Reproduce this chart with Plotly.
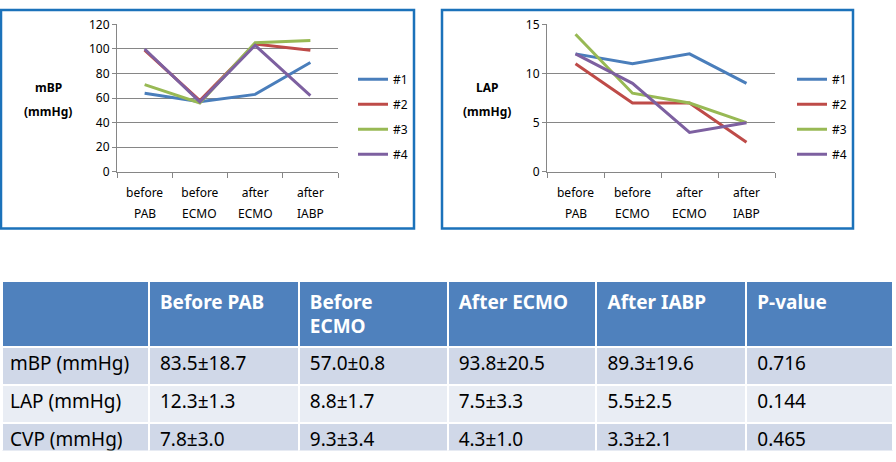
import plotly.graph_objects as go

W, H = 896, 462

# ---------------- data ----------------
categories = ["before PAB", "before ECMO", "after ECMO", "after IABP"]
cat_line1 = ["before", "before", "after", "after"]
cat_line2 = ["PAB", "ECMO", "ECMO", "IABP"]
series_names = ["#1", "#2", "#3", "#4"]
series_colors = ["#4A7EBB", "#BE4B48", "#98B954", "#7D60A0"]

mbp_1 = [64, 57, 63, 89]
mbp_2 = [99, 58, 104, 99]
mbp_3 = [71, 56, 105, 107]
mbp_4 = [100, 57, 103, 62]

lap_1 = [12, 11, 12, 9]
lap_2 = [11, 7, 7, 3]
lap_3 = [14, 8, 7, 5]
lap_4 = [12, 9, 4, 5]

mbp_ticks = [0, 20, 40, 60, 80, 100, 120]
lap_ticks = [0, 5, 10, 15]

table_header = ["", "Before PAB", "Before<br>ECMO", "After ECMO", "After IABP", "P-value"]
row_labels = ["mBP (mmHg)", "LAP (mmHg)", "CVP (mmHg)"]
col_before_pab = ["83.5±18.7", "12.3±1.3", "7.8±3.0"]
col_before_ecmo = ["57.0±0.8", "8.8±1.7", "9.3±3.4"]
col_after_ecmo = ["93.8±20.5", "7.5±3.3", "4.3±1.0"]
col_after_iabp = ["89.3±19.6", "5.5±2.5", "3.3±2.1"]
col_pvalue = ["0.716", "0.144", "0.465"]

# ---------------- helpers ----------------
def px(x):
    return x / W

def py(y):
    return 1 - y / H

FONT = "Noto Sans"
GRID = "#868686"
BOX = "#1B72BA"

fig = go.Figure()
xpos = list(range(len(categories)))

mbp_series = [mbp_1, mbp_2, mbp_3, mbp_4]
lap_series = [lap_1, lap_2, lap_3, lap_4]

for i, (name, vals) in enumerate(zip(series_names, mbp_series)):
    fig.add_trace(go.Scatter(x=xpos, y=vals, mode="lines", name=name,
                             line=dict(color=series_colors[i], width=3),
                             xaxis="x", yaxis="y", legend="legend",
                             legendgroup="a%d" % i))
for i, (name, vals) in enumerate(zip(series_names, lap_series)):
    fig.add_trace(go.Scatter(x=xpos, y=vals, mode="lines", name=name,
                             line=dict(color=series_colors[i], width=3),
                             xaxis="x2", yaxis="y2", legend="legend2",
                             legendgroup="b%d" % i))

# table
pad = "\u2009"
nb = lambda s: s.replace(" ", "\u00a0")
header_vals = [("<b>%s%s</b>" % (pad, h.replace("<br>", "<br>" + pad))) if h else ""
               for h in table_header]
cell_vals = [[nb(v) for v in row_labels]] + \
            [[pad + v for v in col] for col in
             [col_before_pab, col_before_ecmo, col_after_ecmo, col_after_iabp, col_pvalue]]

fig.add_trace(go.Table(
    domain=dict(x=[px(2), px(894)], y=[py(459), py(282)]),
    columnwidth=[147, 150, 149, 149, 150, 147],
    header=dict(values=header_vals,
                fill_color="#4F81BD",
                line=dict(color="white", width=2),
                align="left", height=58,
                font=dict(family=FONT, size=19, color="white")),
    cells=dict(values=cell_vals,
               fill_color=[["#D0D8E8", "#E9EDF4", "#D0D8E8"]] * 6,
               line=dict(color="white", width=2),
               align="left", height=38,
               font=dict(family=FONT, size=19, color="black")),
))

def xaxis_cfg(x0, x1):
    return dict(domain=[px(x0), px(x1)], range=[-0.5, 3.5],
                tickmode="array", tickvals=xpos, ticktext=cat_line1,
                ticks="", showgrid=False, zeroline=False,
                showline=True, linecolor=GRID, linewidth=1,
                ticklabelstandoff=10,
                tickfont=dict(family=FONT, size=12, color="black"),
                minor=dict(tickmode="array", tickvals=[-0.5, 0.5, 1.5, 2.5, 3.5],
                           ticks="outside", ticklen=5, tickcolor=GRID, showgrid=False),
                fixedrange=True)

def yaxis_cfg(ticks, top):
    return dict(domain=[py(169), py(16)], range=[0, top],
                tickmode="array", tickvals=ticks,
                ticks="outside", ticklen=4, tickcolor=GRID,
                showgrid=True, gridcolor=GRID, gridwidth=1,
                zeroline=False, showline=True, linecolor=GRID, linewidth=1,
                tickfont=dict(family=FONT, size=12, color="black"),
                fixedrange=True)

annotations = []
# second line of category labels
for xa in ("x", "x2"):
    for xv, t in zip(xpos, cat_line2):
        annotations.append(dict(x=xv, y=py(212), xref=xa, yref="paper", text=t,
                                showarrow=False, xanchor="center", yanchor="middle",
                                font=dict(family=FONT, size=12, color="black")))
# axis titles
for cx, t1 in ((48, "mBP"), (487, "LAP")):
    annotations.append(dict(x=px(cx), y=py(82), xref="paper", yref="paper",
                            text="<b>%s</b>" % t1, showarrow=False,
                            xanchor="center", yanchor="middle",
                            font=dict(family=FONT, size=12, color="black")))
    annotations.append(dict(x=px(cx), y=py(106), xref="paper", yref="paper",
                            text="<b>(mmHg)</b>", showarrow=False,
                            xanchor="center", yanchor="middle",
                            font=dict(family=FONT, size=12, color="black")))

shapes = [
    dict(type="rect", xref="paper", yref="paper", x0=px(1), x1=px(414),
         y0=py(228), y1=py(1), line=dict(color=BOX, width=2.5)),
    dict(type="rect", xref="paper", yref="paper", x0=px(442), x1=px(853),
         y0=py(228), y1=py(1), line=dict(color=BOX, width=2.5)),
]

legend_common = dict(font=dict(family=FONT, size=12, color="black"),
                     bgcolor="rgba(0,0,0,0)", borderwidth=0,
                     tracegroupgap=6, itemclick=False, itemdoubleclick=False,
                     xanchor="left", yanchor="top")

fig.update_layout(
    width=W, height=H,
    margin=dict(l=0, r=0, t=0, b=0),
    paper_bgcolor="white", plot_bgcolor="white",
    showlegend=True,
    xaxis=dict(anchor="y", **xaxis_cfg(117, 338)),
    yaxis=dict(anchor="x", **yaxis_cfg(mbp_ticks, 120)),
    xaxis2=dict(anchor="y2", **xaxis_cfg(547, 775)),
    yaxis2=dict(anchor="x2", **yaxis_cfg(lap_ticks, 15)),
    legend=dict(x=px(353), y=py(58), **legend_common),
    legend2=dict(x=px(792), y=py(58), **legend_common),
    annotations=annotations,
    shapes=shapes,
)

fig.write_html("out.html", config={"displayModeBar": False},
               post_script="document.body.style.margin='0px';document.body.style.overflow='hidden';")
